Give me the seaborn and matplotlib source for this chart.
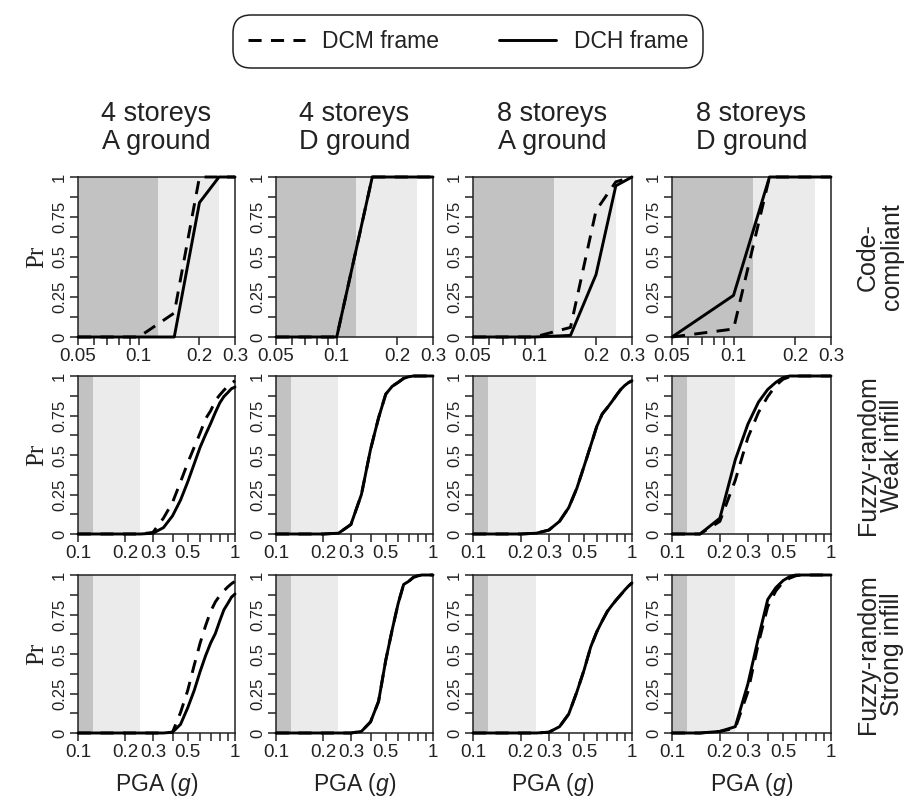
import matplotlib
matplotlib.use("Agg")
import matplotlib.pyplot as plt
from matplotlib.lines import Line2D
from matplotlib.ticker import FixedLocator, NullFormatter
import seaborn as sns
import pandas as pd

# ---------------- data ----------------
col_titles = ["4 storeys\nA ground", "4 storeys\nD ground", "8 storeys\nA ground", "8 storeys\nD ground"]
row_titles = ["Code-\ncompliant", "Fuzzy-random\nWeak infill", "Fuzzy-random\nStrong infill"]
frames = ["DCM frame", "DCH frame"]

# Code-compliant row
x_cc = [0.05, 0.10, 0.15, 0.20, 0.25, 0.30]
cc_dcm_4A = [0, 0, 0.15, 1.00, 1.00, 1]
cc_dch_4A = [0, 0, 0.00, 0.84, 1.00, 1]
cc_dcm_4D = [0, 0, 1.00, 1.00, 1.00, 1]
cc_dch_4D = [0, 0, 1.00, 1.00, 1.00, 1]
cc_dcm_8A = [0, 0, 0.06, 0.79, 0.97, 1]
cc_dch_8A = [0, 0, 0.01, 0.39, 0.945, 1]
cc_dcm_8D = [0, 0.05, 1.00, 1.00, 1.00, 1]
cc_dch_8D = [0, 0.26, 1.00, 1.00, 1.00, 1]

# Fuzzy-random rows
x_fr = [0.10, 0.15, 0.20, 0.25, 0.30, 0.35, 0.40, 0.45, 0.50, 0.55,
        0.60, 0.65, 0.70, 0.75, 0.80, 0.85, 0.90, 0.95, 1.00]
weak_dcm_4A = [0, 0, 0, 0, 0.01, 0.10, 0.20, 0.33, 0.45, 0.55, 0.64, 0.73, 0.78, 0.845, 0.88, 0.91, 0.935, 0.955, 0.97]
weak_dch_4A = [0, 0, 0, 0, 0.005, 0.04, 0.115, 0.215, 0.33, 0.445, 0.55, 0.63, 0.70, 0.77, 0.83, 0.87, 0.895, 0.92, 0.93]
weak_dcm_4D = [0, 0, 0, 0.005, 0.06, 0.25, 0.535, 0.735, 0.885, 0.935, 0.96, 0.985, 0.995, 1, 1, 1, 1, 1, 1]
weak_dch_4D = [0, 0, 0, 0.005, 0.06, 0.25, 0.535, 0.735, 0.885, 0.935, 0.96, 0.985, 0.995, 1, 1, 1, 1, 1, 1]
weak_dcm_8A = [0, 0, 0, 0.005, 0.025, 0.08, 0.167, 0.29, 0.43, 0.56, 0.68, 0.76, 0.80, 0.84, 0.88, 0.915, 0.94, 0.958, 0.97]
weak_dch_8A = [0, 0, 0, 0.005, 0.025, 0.08, 0.167, 0.29, 0.43, 0.56, 0.68, 0.76, 0.80, 0.84, 0.88, 0.915, 0.94, 0.958, 0.97]
weak_dcm_8D = [0, 0, 0.08, 0.34, 0.61, 0.77, 0.87, 0.94, 0.98, 0.995, 1, 1, 1, 1, 1, 1, 1, 1, 1]
weak_dch_8D = [0, 0, 0.10, 0.47, 0.695, 0.835, 0.915, 0.96, 0.99, 1, 1, 1, 1, 1, 1, 1, 1, 1, 1]
strong_dcm_4A = [0, 0, 0, 0, 0, 0, 0.005, 0.13, 0.27, 0.43, 0.57, 0.68, 0.77, 0.83, 0.87, 0.90, 0.925, 0.945, 0.96]
strong_dch_4A = [0, 0, 0, 0, 0, 0, 0.005, 0.055, 0.16, 0.27, 0.39, 0.49, 0.57, 0.63, 0.71, 0.78, 0.82, 0.86, 0.88]
strong_dcm_4D = [0, 0, 0, 0, 0, 0.01, 0.07, 0.20, 0.46, 0.655, 0.82, 0.94, 0.96, 0.985, 0.995, 1, 1, 1, 1]
strong_dch_4D = [0, 0, 0, 0, 0, 0.01, 0.07, 0.20, 0.46, 0.655, 0.82, 0.94, 0.96, 0.985, 0.995, 1, 1, 1, 1]
strong_dcm_8A = [0, 0, 0, 0, 0.005, 0.04, 0.12, 0.26, 0.40, 0.545, 0.64, 0.71, 0.77, 0.81, 0.845, 0.875, 0.905, 0.93, 0.95]
strong_dch_8A = [0, 0, 0, 0, 0.005, 0.04, 0.12, 0.26, 0.40, 0.545, 0.64, 0.71, 0.77, 0.81, 0.845, 0.875, 0.905, 0.93, 0.95]
strong_dcm_8D = [0, 0, 0.01, 0.03, 0.26, 0.57, 0.80, 0.90, 0.955, 0.98, 0.995, 1, 1, 1, 1, 1, 1, 1, 1]
strong_dch_8D = [0, 0, 0.01, 0.04, 0.31, 0.605, 0.845, 0.92, 0.965, 0.99, 1, 1, 1, 1, 1, 1, 1, 1, 1]

# Shaded PGA bands
band_dark_end = 0.125
band_light_end = 0.25

# x-axis ticks
cc_ticks = [0.05, 0.06, 0.07, 0.08, 0.09, 0.1, 0.2, 0.3]
cc_labels = {0.05: "0.05", 0.1: "0.1", 0.2: "0.2", 0.3: "0.3"}
fr_ticks = [0.1, 0.2, 0.3, 0.4, 0.5, 0.6, 0.7, 0.8, 0.9, 1.0]
fr_labels = {0.1: "0.1", 0.2: "0.2", 0.3: "0.3", 0.5: "0.5", 1.0: "1"}
y_major = [0, 0.25, 0.5, 0.75, 1]
y_labels = ["0", "0.25", "0.5", "0.75", "1"]
y_minor = [0.125, 0.375, 0.625, 0.875]

rows = [
    (x_cc, [(cc_dcm_4A, cc_dch_4A), (cc_dcm_4D, cc_dch_4D), (cc_dcm_8A, cc_dch_8A), (cc_dcm_8D, cc_dch_8D)]),
    (x_fr, [(weak_dcm_4A, weak_dch_4A), (weak_dcm_4D, weak_dch_4D), (weak_dcm_8A, weak_dch_8A), (weak_dcm_8D, weak_dch_8D)]),
    (x_fr, [(strong_dcm_4A, strong_dch_4A), (strong_dcm_4D, strong_dch_4D), (strong_dcm_8A, strong_dch_8A), (strong_dcm_8D, strong_dch_8D)]),
]

records = []
for r, (xs, panels) in enumerate(rows):
    for c, (dcm, dch) in enumerate(panels):
        for fr, ys in zip(frames, (dcm, dch)):
            for xv, yv in zip(xs, ys):
                records.append(dict(row=r, col=c, frame=fr, pga=xv, pr=yv))
df = pd.DataFrame(records)

# ---------------- style ----------------
sns.set_theme(style="ticks")
plt.rcParams["font.family"] = ["Liberation Sans", "DejaVu Sans"]
plt.rcParams["mathtext.fontset"] = "custom"
plt.rcParams["mathtext.it"] = "Liberation Sans:italic"
plt.rcParams["mathtext.rm"] = "Liberation Sans"

W, H = 916, 802
fig = plt.figure(figsize=(W / 100, H / 100), dpi=100)
fig.patch.set_facecolor("white")

cols_px = [(78, 235), (276, 433), (473, 632), (672, 831)]
rows_px = [(177, 337), (376, 534), (575, 733)]

DARK = "#c2c2c2"
LIGHT = "#ebebeb"
TXT = "#222222"
dash_map = {"DCM frame": (4.5, 3.2), "DCH frame": ""}

for r, (y0, y1) in enumerate(rows_px):
    for c, (x0, x1) in enumerate(cols_px):
        ax = fig.add_axes([x0 / W, 1 - y1 / H, (x1 - x0) / W, (y1 - y0) / H])
        ax.set_facecolor("white")
        xmin = 0.05 if r == 0 else 0.1
        xmax = 0.3 if r == 0 else 1.0
        ax.set_xscale("log")
        ax.axvspan(xmin, band_dark_end, color=DARK, lw=0, zorder=0)
        ax.axvspan(band_dark_end, band_light_end, color=LIGHT, lw=0, zorder=0)
        sub = df[(df.row == r) & (df.col == c)]
        sns.lineplot(data=sub, x="pga", y="pr", style="frame", style_order=frames,
                     dashes=dash_map, color="black", lw=2.1, ax=ax, legend=False,
                     estimator=None, sort=False)
        for ln in ax.get_lines():
            ln.set_clip_on(False)
            ln.set_zorder(3)
        ax.set_xlim(xmin, xmax)
        ax.set_ylim(0, 1)
        ticks = cc_ticks if r == 0 else fr_ticks
        labels = cc_labels if r == 0 else fr_labels
        ax.xaxis.set_major_locator(FixedLocator(ticks))
        ax.xaxis.set_minor_locator(FixedLocator([]))
        ax.xaxis.set_minor_formatter(NullFormatter())
        ax.set_xticklabels([labels.get(t, "") for t in ticks])
        ax.set_yticks(y_major)
        ax.set_yticklabels(y_labels)
        ax.set_yticks(y_minor, minor=True)
        ax.tick_params(axis="x", which="both", length=6, width=1.1, color=TXT,
                       labelsize=13.5, pad=2, labelcolor=TXT)
        ax.tick_params(axis="y", which="both", length=6, width=1.1, color=TXT,
                       labelsize=12, pad=2, labelrotation=90, labelcolor=TXT)
        for lab in ax.get_yticklabels():
            lab.set_va("center")
        for sp in ax.spines.values():
            sp.set_visible(True)
            sp.set_linewidth(1.1)
            sp.set_color(TXT)
        ax.set_xlabel("")
        if c == 0:
            ax.set_ylabel("Pr", family=["Liberation Serif", "DejaVu Serif"], fontsize=18,
                          labelpad=3, color=TXT)
        else:
            ax.set_ylabel("")
        if r == 2:
            ax.set_xlabel("PGA ($g$)", fontsize=16.5, labelpad=7, color=TXT)

# column titles
for c, (x0, x1) in enumerate(cols_px):
    fig.text((x0 + x1) / 2 / W, 1 - 128 / H, col_titles[c], ha="center", va="center",
             fontsize=19.5, linespacing=1.1, color=TXT)

# row titles
row_centers = [257, 455, 654]
for r, yc in enumerate(row_centers):
    fig.text(880 / W, 1 - yc / H, row_titles[r], ha="center", va="center", rotation=90,
             fontsize=18, linespacing=1.0, color=TXT)

# legend
handles = [Line2D([], [], color="black", lw=2.1, dashes=dash_map["DCM frame"]),
           Line2D([], [], color="black", lw=2.1)]
leg = fig.legend(handles, frames, loc="center", bbox_to_anchor=(468 / W, 1 - 41.5 / H), ncol=2,
                 frameon=True, fontsize=16.5, handlelength=2.5, columnspacing=2.6,
                 handletextpad=0.75, borderpad=0.4, fancybox=True)
fr = leg.get_frame()
fr.set_edgecolor(TXT)
fr.set_linewidth(1.1)
fr.set_facecolor("white")
fr.set_alpha(1)
fr.set_boxstyle("round", pad=0.25, rounding_size=0.8)
for t in leg.get_texts():
    t.set_color(TXT)

fig.savefig("out.png", dpi=100, facecolor="white")
